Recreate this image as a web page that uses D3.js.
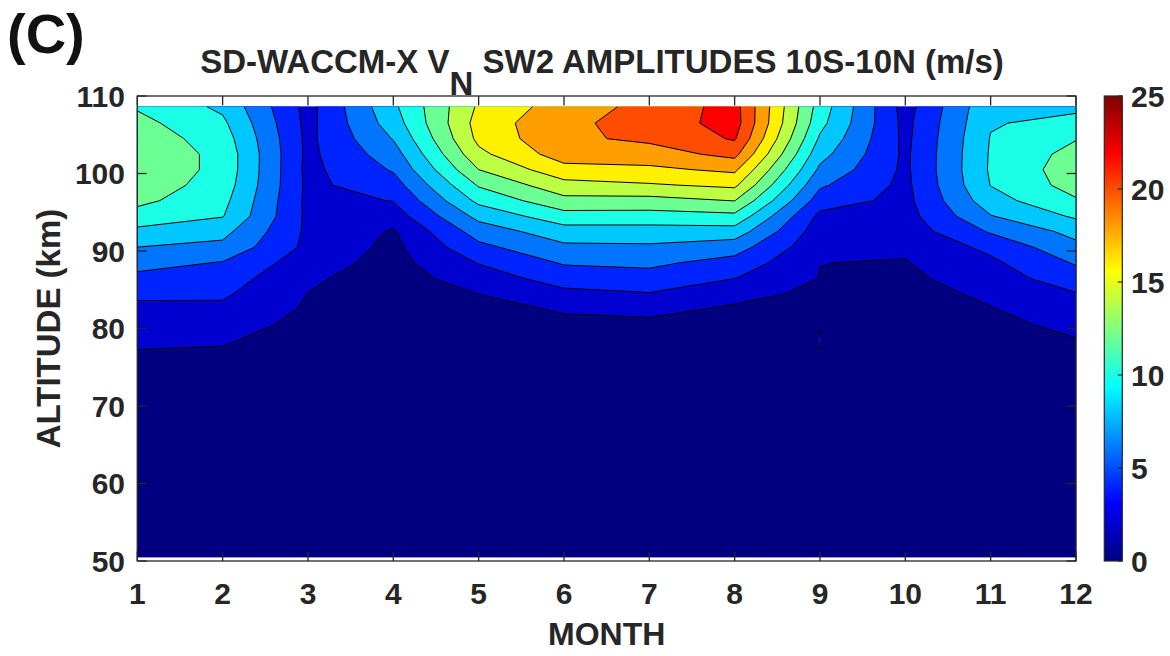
<!DOCTYPE html>
<html>
<head>
<meta charset="utf-8">
<script src="https://cdn.jsdelivr.net/npm/d3@7"></script>
<style>
  html, body { margin: 0; padding: 0; background: #fff; }
  svg { display: block; font-family: "Liberation Sans", Arial, Helvetica, sans-serif; font-weight: bold; }
</style>
</head>
<body>
<svg id="chart" width="1170" height="656"></svg>
<script>
// Month grid (columns) and altitude grid (rows, top to bottom, km)
const months = [1, 2, 3, 4, 5, 6, 7, 8, 9, 10, 11, 12];
const altitudes = [108.6, 106.5, 104.5, 102.5, 100.5, 98.5, 96.5, 94.5, 92.5, 90.5, 88.5, 86.5,
                   84.5, 82.5, 80.5, 78.5, 76.5, 74, 70, 65, 60, 55, 50.5];

// SW2 meridional wind amplitude (m/s), one row per altitude, one value per month
const amplitude = [
  [11.8, 9.6, 3.3, 9.6, 16.3, 19.0, 20.6, 22.8, 11.1, 3.2, 9.6, 9.6],
  [12.6, 10.4, 3.4, 9.0, 16.8, 19.6, 20.7, 22.9, 10.6, 3.4, 9.85, 10.6],
  [13.2, 11.0, 3.5, 8.1, 16.5, 19.6, 20.4, 22.2, 9.7, 3.5, 10.1, 11.9],
  [13.6, 11.4, 3.5, 7.1, 15.5, 19.0, 19.1, 20.6, 8.7, 3.6, 10.2, 12.7],
  [13.6, 11.4, 3.45, 6.2, 14.0, 17.3, 17.6, 18.4, 7.6, 3.6, 10.25, 13.1],
  [13.2, 11.1, 3.55, 5.1, 12.2, 15.3, 15.8, 16.4, 6.3, 3.5, 10.05, 12.8],
  [12.5, 10.6, 3.5, 4.05, 10.5, 13.4, 13.3, 14.05, 5.0, 3.4, 9.2, 11.8],
  [11.2, 10.1, 3.55, 3.0, 8.6, 11.2, 11.2, 11.5, 3.5, 3.2, 7.9, 10.3],
  [9.5, 8.6, 3.6, 1.8, 6.9, 9.1, 9.1, 9.1, 2.9, 2.9, 6.2, 8.6],
  [8.0, 7.5, 3.5, 1.5, 5.5, 7.6, 7.7, 6.9, 2.5, 2.3, 4.5, 7.5],
  [6.7, 5.9, 2.9, 1.3, 4.1, 6.2, 6.4, 5.3, 2.02, 1.9, 3.6, 6.2],
  [5.5, 5.0, 2.3, 1.1, 3.0, 4.9, 5.3, 4.05, 1.95, 1.6, 3.0, 5.2],
  [4.4, 4.3, 1.98, 0.95, 2.02, 3.5, 3.9, 2.4, 1.73, 1.2, 2.4, 3.9],
  [3.5, 3.6, 1.75, 0.8, 1.5, 2.15, 2.34, 1.8, 1.7, 1.0, 1.9, 3.2],
  [2.9, 2.9, 1.4, 0.7, 1.2, 1.65, 1.7, 1.3, 1.975, 0.9, 1.5, 2.5],
  [2.3, 2.2, 1.1, 0.6, 1.0, 1.3, 1.35, 1.0, 2.04, 0.8, 1.2, 1.9],
  [1.8, 1.7, 0.9, 0.5, 0.85, 1.1, 1.15, 0.9, 1.975, 0.7, 1.0, 1.5],
  [1.3, 1.2, 0.7, 0.45, 0.7, 0.9, 0.95, 0.75, 1.2, 0.6, 0.8, 1.2],
  [0.9, 0.8, 0.5, 0.35, 0.5, 0.7, 0.7, 0.6, 0.8, 0.5, 0.6, 0.8],
  [0.6, 0.5, 0.35, 0.25, 0.35, 0.5, 0.5, 0.45, 0.6, 0.35, 0.4, 0.55],
  [0.4, 0.35, 0.25, 0.2, 0.25, 0.35, 0.35, 0.3, 0.4, 0.25, 0.3, 0.4],
  [0.3, 0.25, 0.2, 0.15, 0.2, 0.25, 0.25, 0.25, 0.3, 0.2, 0.2, 0.3],
  [0.2, 0.2, 0.15, 0.1, 0.15, 0.2, 0.2, 0.2, 0.2, 0.15, 0.15, 0.2]
];

// Contour levels and tick labels
const levels = [0, 2, 4, 6, 8, 10, 12, 14, 16, 18, 20, 22, 24];
const monthTicks = [1, 2, 3, 4, 5, 6, 7, 8, 9, 10, 11, 12];
const altitudeTicks = [50, 60, 70, 80, 90, 100, 110];
const colorbarTicks = [0, 5, 10, 15, 20, 25];
const colorRange = [0, 25];

const ink = "#262626";

// jet colormap
function jet(t) {
  const c = v => Math.max(0, Math.min(1, v));
  const r = c(Math.min(4 * t - 1.5, -4 * t + 4.5));
  const g = c(Math.min(4 * t - 0.5, -4 * t + 3.5));
  const b = c(Math.min(4 * t + 0.5, -4 * t + 2.5));
  return d3.rgb(r * 255, g * 255, b * 255).formatHex();
}

const svg = d3.select("#chart");
const plot = { left: 137.3, right: 1076, top: 96, bottom: 561 };

const x = d3.scaleLinear().domain([1, 12]).range([plot.left, plot.right]);
const y = d3.scaleLinear().domain([50, 110]).range([plot.bottom, plot.top]);
const colorScale = d3.scaleLinear().domain(colorRange).range([0, 1]);

// grid index -> data coordinates (piecewise linear over the grid)
const nx = months.length, ny = altitudes.length;
const colToMonth = d3.scaleLinear().domain(d3.range(nx)).range(months);
const rowToAlt = d3.scaleLinear().domain(d3.range(ny)).range(altitudes);

function gridPoint(p) {
  const gx = Math.max(0, Math.min(nx - 1, p[0] - 0.5));
  const gy = Math.max(0, Math.min(ny - 1, p[1] - 0.5));
  return [gx, gy];
}
function toScreen(g) {
  return [x(colToMonth(g[0])), y(rowToAlt(g[1]))];
}

const contours = d3.contours()
  .size([nx, ny])
  .thresholds(levels)(amplitude.flat());

// filled bands
const fills = svg.append("g");
contours.forEach(c => {
  const d = c.coordinates.map(poly =>
    poly.map(ring => "M" + ring.map(p => toScreen(gridPoint(p)).map(v => v.toFixed(2)).join(",")).join("L") + "Z").join("")
  ).join("");
  if (!d) return;
  fills.append("path")
    .attr("d", d)
    .attr("fill", jet(colorScale(c.value)))
    .attr("fill-rule", "evenodd")
    .attr("stroke", jet(colorScale(c.value)))
    .attr("stroke-width", 0.3);
});

// contour lines (skip the pieces that run along the grid edge)
const lines = svg.append("g")
  .attr("fill", "none")
  .attr("stroke", "#000")
  .attr("stroke-width", 1)
  .attr("stroke-linejoin", "round");

contours.forEach(c => {
  if (c.value <= levels[0]) return;
  let d = "";
  c.coordinates.forEach(poly => poly.forEach(ring => {
    let last = null;
    for (let i = 0; i < ring.length - 1; i++) {
      const a = gridPoint(ring[i]), b = gridPoint(ring[i + 1]);
      const edge =
        (a[0] === 0 && b[0] === 0) || (a[0] === nx - 1 && b[0] === nx - 1) ||
        (a[1] === 0 && b[1] === 0) || (a[1] === ny - 1 && b[1] === ny - 1);
      if (edge) { last = null; continue; }
      const pa = toScreen(a), pb = toScreen(b);
      if (!last || last[0] !== pa[0] || last[1] !== pa[1]) d += "M" + pa[0].toFixed(2) + "," + pa[1].toFixed(2);
      d += "L" + pb[0].toFixed(2) + "," + pb[1].toFixed(2);
      last = pb;
    }
  }));
  if (d) lines.append("path").attr("d", d);
});

// axes box and ticks
const axes = svg.append("g").attr("stroke", ink).attr("stroke-width", 1.3);
axes.append("rect")
  .attr("x", plot.left).attr("y", plot.top)
  .attr("width", plot.right - plot.left).attr("height", plot.bottom - plot.top)
  .attr("fill", "none");
const tl = 9.4;
monthTicks.forEach(m => {
  axes.append("line").attr("x1", x(m)).attr("x2", x(m)).attr("y1", plot.bottom).attr("y2", plot.bottom - tl);
  axes.append("line").attr("x1", x(m)).attr("x2", x(m)).attr("y1", plot.top).attr("y2", plot.top + tl);
});
altitudeTicks.forEach(a => {
  axes.append("line").attr("x1", plot.left).attr("x2", plot.left + tl).attr("y1", y(a)).attr("y2", y(a));
  axes.append("line").attr("x1", plot.right).attr("x2", plot.right - tl).attr("y1", y(a)).attr("y2", y(a));
});

// tick labels
const labels = svg.append("g").attr("fill", ink).attr("font-size", 30);
monthTicks.forEach(m => {
  labels.append("text").attr("x", x(m)).attr("y", 604).attr("text-anchor", "middle").text(m);
});
altitudeTicks.forEach(a => {
  labels.append("text").attr("x", 125).attr("y", y(a)).attr("dy", "0.36em").attr("text-anchor", "end").text(a);
});

// axis titles
svg.append("text")
  .attr("x", (plot.left + plot.right) / 2).attr("y", 645)
  .attr("text-anchor", "middle").attr("font-size", 32).attr("fill", ink)
  .text("MONTH");
svg.append("text")
  .attr("transform", `translate(60,${(plot.top + plot.bottom) / 2}) rotate(-90)`)
  .attr("text-anchor", "middle").attr("font-size", 33).attr("fill", ink)
  .text("ALTITUDE (km)");

// title
const title = svg.append("text")
  .attr("x", 602).attr("y", 73)
  .attr("text-anchor", "middle").attr("font-size", 33).attr("fill", ink);
title.append("tspan").text("SD-WACCM-X V");
title.append("tspan").attr("dy", 22).text("N");
title.append("tspan").attr("dy", -22).text(" SW2 AMPLITUDES 10S-10N (m/s)");

// panel letter
svg.append("text")
  .attr("x", 7).attr("y", 53)
  .attr("font-size", 56).attr("fill", "#111")
  .text("(C)");

// colorbar
const bar = { left: 1104.3, right: 1122.3, top: 96, bottom: 561 };
const cb = d3.scaleLinear().domain(colorRange).range([bar.bottom, bar.top]);
const grad = svg.append("defs").append("linearGradient")
  .attr("id", "jetbar").attr("x1", 0).attr("y1", 1).attr("x2", 0).attr("y2", 0);
d3.range(0, 1.0001, 1 / 64).forEach(t => {
  grad.append("stop").attr("offset", t).attr("stop-color", jet(t));
});
svg.append("rect")
  .attr("x", bar.left).attr("y", bar.top)
  .attr("width", bar.right - bar.left).attr("height", bar.bottom - bar.top)
  .attr("fill", "url(#jetbar)")
  .attr("stroke", ink).attr("stroke-width", 1.2);
colorbarTicks.forEach(v => {
  svg.append("line")
    .attr("x1", bar.right - 4.5).attr("x2", bar.right)
    .attr("y1", cb(v)).attr("y2", cb(v))
    .attr("stroke", ink).attr("stroke-width", 1.2);
  svg.append("text")
    .attr("x", 1131).attr("y", cb(v)).attr("dy", "0.36em")
    .attr("font-size", 30).attr("fill", ink)
    .text(v);
});
</script>
</body>
</html>
